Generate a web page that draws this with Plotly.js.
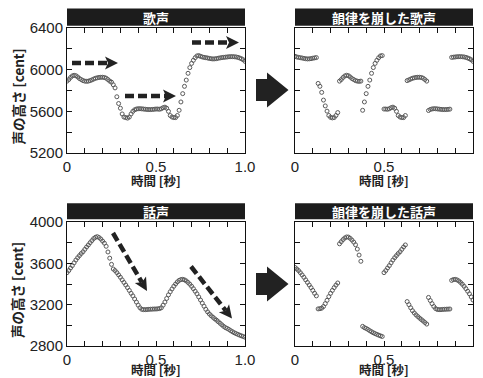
<!DOCTYPE html>
<html>
<head>
<meta charset="utf-8">
<script src="https://cdn.plot.ly/plotly-3.0.1.min.js"></script>
<style>html,body{margin:0;padding:0;background:#fff;}#chart{width:483px;height:378px;}</style>
</head>
<body>
<div id="chart"></div>
<script>
// ---- data ----
const time = [0.00,0.01,0.02,0.03,0.04,0.05,0.06,0.07,0.08,0.09,0.10,0.11,0.12,0.13,0.14,0.15,0.16,0.17,0.18,0.19,0.20,0.21,0.22,0.23,0.24,0.25,0.26,0.27,0.28,0.29,0.30,0.31,0.32,0.33,0.34,0.35,0.36,0.37,0.38,0.39,0.40,0.41,0.42,0.43,0.44,0.45,0.46,0.47,0.48,0.49,0.50,0.51,0.52,0.53,0.54,0.55,0.56,0.57,0.58,0.59,0.60,0.61,0.62,0.63,0.64,0.65,0.66,0.67,0.68,0.69,0.70,0.71,0.72,0.73,0.74,0.75,0.76,0.77,0.78,0.79,0.80,0.81,0.82,0.83,0.84,0.85,0.86,0.87,0.88,0.89,0.90,0.91,0.92,0.93,0.94,0.95,0.96,0.97,0.98,0.99,1.00];

const singing = [5890,5905,5925,5940,5946,5942,5930,5915,5905,5895,5890,5888,5890,5895,5902,5910,5917,5922,5925,5927,5927,5925,5918,5905,5890,5880,5855,5825,5740,5675,5630,5575,5545,5540,5535,5545,5575,5600,5615,5622,5625,5625,5624,5622,5620,5618,5617,5617,5618,5620,5622,5622,5620,5625,5635,5640,5630,5600,5560,5545,5540,5540,5560,5610,5690,5770,5840,5900,5965,6020,6060,6090,6115,6132,6135,6128,6122,6118,6115,6112,6108,6105,6103,6104,6106,6110,6113,6116,6118,6120,6122,6124,6125,6125,6124,6122,6118,6112,6105,6095,6080];

const singingBroken = [6128,6122,6118,6115,6112,6108,6105,6103,6104,6106,6110,6113,6116,
  5868,5840,5782,5708,5652,5602,5560,5542,5537,5540,5560,5588,
  5890,5905,5925,5940,5946,5942,5930,5915,5905,5895,5890,5888,5890,
  5610,5690,5770,5840,5900,5965,6020,6060,6090,6115,6132,6135,
  5622,5622,5620,5625,5635,5640,5630,5600,5560,5545,5540,5540,5560,
  5895,5902,5910,5917,5922,5925,5927,5927,5925,5918,5905,5890,
  5608,5618,5623,5625,5625,5623,5621,5619,5617,5617,5617,5619,5621,
  6118,6120,6122,6124,6125,6125,6124,6122,6118,6112,6105,6095,6080];

const speech = [3510,3530,3555,3578,3605,3632,3655,3675,3695,3712,3735,3758,3778,3800,3820,3840,3852,3858,3850,3835,3815,3795,3765,3710,3650,3590,3545,3530,3510,3488,3465,3440,3415,3390,3365,3338,3310,3285,3255,3225,3195,3170,3155,3152,3152,3153,3155,3156,3157,3158,3158,3160,3162,3170,3195,3225,3260,3295,3325,3352,3378,3400,3420,3435,3443,3445,3440,3430,3415,3398,3378,3355,3330,3305,3275,3245,3215,3185,3155,3130,3110,3093,3078,3063,3050,3035,3020,3005,2990,2978,2970,2960,2948,2938,2928,2920,2912,2905,2898,2892,2885];

const speechBroken = [3560,3545,3530,3510,3488,3465,3440,3415,3390,3365,3338,3310,3285,
  3159,3161,3166,3182,3210,3242,3278,3310,3338,3365,3389,3410,
  3789,3810,3830,3846,3855,3854,3842,3825,3805,3780,3738,3680,3620,
  2990,2978,2970,2960,2948,2938,2928,2920,2912,2905,2898,2892,
  3510,3530,3555,3578,3605,3632,3655,3675,3695,3712,3735,3758,3778,
  3230,3200,3170,3142,3120,3101,3085,3070,3056,3042,3027,3012,
  3270,3240,3210,3182,3162,3153,3152,3152,3154,3155,3156,3157,3158,
  3435,3443,3445,3440,3430,3415,3398,3378,3355,3330,3305,3275,3245];

const panelTitles = ['歌声','韻律を崩した歌声','話声','韻律を崩した話声'];
const xTitle = '時間 [秒]';
const yTitle = '声の高さ [cent]';
const xTickVals = [0,0.1,0.2,0.3,0.4,0.5,0.6,0.7,0.8,0.9,1.0];
const xTickText = ['0','','','','','0.5','','','','','1.0'];
const ySingTickVals = [5200,5400,5600,5800,6000,6200,6400];
const ySingTickText = ['5200','','5600','','6000','','6400'];
const ySpeechTickVals = [2800,3000,3200,3400,3600,3800,4000];
const ySpeechTickText = ['2800','','3200','','3600','','4000'];

// ---- layout helpers ----
const W = 483, H = 378;
const px = X => X / W;
const py = Y => 1 - Y / H;
const colL = [67, 245], colR = [295, 473];
const rowT = [28, 153], rowB = [222, 346];
const numFont = {family: 'Liberation Sans Narrow, Arial Narrow, Liberation Sans, Arial, sans-serif', size: 15, color: '#222'};
const jpFont = 'Noto Sans CJK JP, sans-serif';

function xAxis(col, anchor) {
  return {domain: [px(col[0]), px(col[1])], anchor: anchor, range: [0, 1],
    tickmode: 'array', tickvals: xTickVals, ticktext: xTickText,
    ticks: 'inside', ticklen: 5, tickwidth: 1, tickcolor: '#111',
    showline: true, linecolor: '#111', linewidth: 1, mirror: 'ticks',
    showgrid: false, zeroline: false, tickfont: numFont, automargin: false, fixedrange: true};
}
function yAxis(row, anchor, range, vals, text, labels) {
  return {domain: [py(row[1]), py(row[0])], anchor: anchor, range: range,
    tickmode: 'array', tickvals: vals, ticktext: text, showticklabels: labels,
    ticks: 'inside', ticklen: 5, tickwidth: 1, tickcolor: '#111',
    showline: true, linecolor: '#111', linewidth: 1, mirror: 'ticks',
    showgrid: false, zeroline: false, tickfont: numFont, automargin: false, fixedrange: true};
}

const marker = {symbol: 'circle-open', size: 4, color: '#5a5a5a', line: {width: 1, color: '#5a5a5a'}};
const traces = [
  {x: time, y: singing, xaxis: 'x', yaxis: 'y', mode: 'markers', marker: marker, hoverinfo: 'skip'},
  {x: time, y: singingBroken, xaxis: 'x2', yaxis: 'y2', mode: 'markers', marker: marker, hoverinfo: 'skip'},
  {x: time, y: speech, xaxis: 'x3', yaxis: 'y3', mode: 'markers', marker: marker, hoverinfo: 'skip'},
  {x: time, y: speechBroken, xaxis: 'x4', yaxis: 'y4', mode: 'markers', marker: marker, hoverinfo: 'skip'}
];

const shapes = [];
const annotations = [];

// title bars
const bars = [[colL, 8.5, 25.7], [colR, 8.5, 25.7], [colL, 203.3, 219.3], [colR, 203.3, 219.3]];
bars.forEach((b, i) => {
  shapes.push({type: 'rect', xref: 'paper', yref: 'paper', x0: px(b[0][0]), x1: px(b[0][1]), y0: py(b[2]), y1: py(b[1]),
    fillcolor: '#1c1c1c', line: {width: 0}});
  annotations.push({xref: 'paper', yref: 'paper', x: px((b[0][0] + b[0][1]) / 2), y: py((b[1] + b[2]) / 2),
    text: panelTitles[i], showarrow: false, xanchor: 'center', yanchor: 'middle',
    font: {family: jpFont, size: 13, color: '#fff', weight: 'bold'}});
});

// axis titles
[[colL, 180], [colR, 180], [colL, 369.5], [colR, 369.5]].forEach(a => {
  annotations.push({xref: 'paper', yref: 'paper', x: px((a[0][0] + a[0][1]) / 2), y: py(a[1]),
    text: xTitle, showarrow: false, xanchor: 'center', yanchor: 'middle',
    font: {family: jpFont, size: 12.5, color: '#222', weight: 'bold'}});
});
[96.5, 290].forEach(yc => {
  annotations.push({xref: 'paper', yref: 'paper', x: px(17), y: py(yc), textangle: -90,
    text: yTitle, showarrow: false, xanchor: 'center', yanchor: 'middle',
    font: {family: jpFont, size: 13.5, color: '#222', weight: 'bold'}});
});

// big transition arrows
function bigArrow(cy) {
  const p = [[256, cy - 11], [267, cy - 11], [267, cy - 17.5], [288.5, cy], [267, cy + 17.5], [267, cy + 11], [256, cy + 11]];
  shapes.push({type: 'path', xref: 'paper', yref: 'paper',
    path: 'M' + p.map(q => px(q[0]) + ',' + py(q[1])).join(' L') + ' Z',
    fillcolor: '#222', line: {width: 0}});
}
bigArrow(90);
bigArrow(284);

// dashed arrows
function dashArrow(x0, y0, x1, y1) {
  const dx = x1 - x0, dy = y1 - y0, L = Math.hypot(dx, dy);
  const ux = dx / L, uy = dy / L, nx = -uy, ny = ux;
  const hl = 13, hw = 6.5;
  const bx = x1 - ux * hl, by = y1 - uy * hl;
  const sx = x1 - ux * (hl - 3), sy = y1 - uy * (hl - 3);
  shapes.push({type: 'line', xref: 'paper', yref: 'paper', x0: px(x0), y0: py(y0), x1: px(sx), y1: py(sy),
    line: {color: '#222', width: 4.5, dash: '9px,4px'}});
  const p = [[x1, y1], [bx + nx * hw, by + ny * hw], [x1 - ux * (hl - 3), y1 - uy * (hl - 3)], [bx - nx * hw, by - ny * hw]];
  shapes.push({type: 'path', xref: 'paper', yref: 'paper',
    path: 'M' + p.map(q => px(q[0]) + ',' + py(q[1])).join(' L') + ' Z',
    fillcolor: '#222', line: {width: 0}});
}
dashArrow(72, 63, 118, 63);
dashArrow(125, 96, 176, 96);
dashArrow(192, 42.5, 239, 42.5);
dashArrow(113, 233, 147, 291);
dashArrow(191, 266.5, 232, 318.5);

const layout = {
  width: W, height: H, margin: {l: 0, r: 0, t: 0, b: 0},
  paper_bgcolor: '#fff', plot_bgcolor: '#fff', showlegend: false,
  xaxis: xAxis(colL, 'y'), yaxis: yAxis(rowT, 'x', [5200, 6400], ySingTickVals, ySingTickText, true),
  xaxis2: xAxis(colR, 'y2'), yaxis2: yAxis(rowT, 'x2', [5200, 6400], ySingTickVals, ySingTickText, false),
  xaxis3: xAxis(colL, 'y3'), yaxis3: yAxis(rowB, 'x3', [2800, 4000], ySpeechTickVals, ySpeechTickText, true),
  xaxis4: xAxis(colR, 'y4'), yaxis4: yAxis(rowB, 'x4', [2800, 4000], ySpeechTickVals, ySpeechTickText, false),
  shapes: shapes, annotations: annotations
};

Plotly.newPlot('chart', traces, layout, {staticPlot: true, displayModeBar: false});
</script>
</body>
</html>
